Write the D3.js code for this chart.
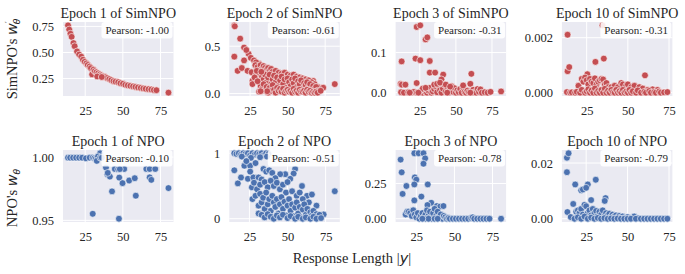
<!DOCTYPE html>
<html><head><meta charset="utf-8">
<script src="https://cdn.jsdelivr.net/npm/d3@7"></script>
<style>
body{margin:0;background:#fff}
svg text{font-family:"Liberation Serif","Times New Roman",serif;fill:#262626}
</style>
</head><body>
<svg id="c" width="685" height="274"></svg>
<script>
// ---------------- DATA ----------------
const titles = ["Epoch 1 of SimNPO","Epoch 2 of SimNPO","Epoch 3 of SimNPO","Epoch 10 of SimNPO",
                "Epoch 1 of NPO","Epoch 2 of NPO","Epoch 3 of NPO","Epoch 10 of NPO"];
const pearson = ["-1.00","-0.61","-0.31","-0.31","-0.10","-0.51","-0.78","-0.79"];
const xTicks = [25,50,75];
const yTicks = [[0.25,0.5,0.75],[0,0.5],[0,0.1],[0,0.002],[0.95,1.0],[0,1],[0,0.25],[0,0.02]];
const yTickLabels = [["0.25","0.50","0.75"],["0.0","0.5"],["0.0","0.1"],["0.000","0.002"],
                     ["0.95","1.00"],["0","1"],["0.00","0.25"],["0.00","0.02"]];

const simnpoE1 = [[13.6,0.76],[14.4,0.72],[15.2,0.68],[16.0,0.65],[17.2,0.59],[18.0,0.56],[19.6,0.51],[21.0,0.48],
[22.4,0.46],[23.5,0.43],[24.6,0.41],[25.8,0.395],[26.7,0.38],[27.9,0.365],[28.8,0.35],[29.6,0.29],[30.5,0.335],
[31.4,0.32],[32.5,0.31],[33.6,0.30],[34.8,0.29],[35.7,0.28],[37.0,0.27],[38.2,0.265],[39.5,0.255],[41.0,0.245],
[42.3,0.235],[43.8,0.225],[45.2,0.22],[46.9,0.215],[48.4,0.205],[50.1,0.2],[51.7,0.19],[53.3,0.185],[55.0,0.18],
[56.8,0.175],[58.4,0.17],[60.1,0.165],[61.9,0.16],[63.6,0.155],[65.2,0.152],[67.1,0.148],[68.9,0.145],[70.6,0.14],
[72.3,0.138],[80.3,0.115],[33.0,0.27],[36.0,0.265]];

const simnpoE2 = [[14.5,0.72],[14.8,0.71],[18.4,0.58],[21,0.486],[14.5,0.39],[24,0.42],[25.5,0.377],[21,0.35],
[27.6,0.35],[31,0.315],[16.7,0.24],[19.5,0.27],[23.3,0.24],[26,0.225],[26.6,0.134],[26.6,0.1],[81.4,0.1],[73.7,0.062],
[67,0.134],[22.5,0.46],[29,0.33],
[28.5,0.30],[30,0.28],[32,0.30],[33,0.26],[34,0.29],[35,0.27],[36,0.25],[37,0.27],[38,0.24],[39,0.26],[40,0.23],
[42,0.24],[44,0.22],[46,0.21],[48,0.22],[50,0.20],[52,0.19],[54,0.2],[56,0.18],[58,0.17],[60,0.16],[62,0.15],
[64,0.14],[66,0.12],[68,0.10],[70,0.07],
[29,0.2],[31,0.22],[33,0.18],[34,0.15],[35,0.2],[36,0.12],[37,0.17],[38,0.2],[39,0.1],[40,0.15],[41,0.19],[42,0.12],
[43,0.17],[44,0.08],[45,0.14],[46,0.18],[47,0.1],[48,0.15],[49,0.06],[50,0.16],[51,0.12],[52,0.08],[53,0.15],
[54,0.11],[55,0.16],[56,0.07],[57,0.13],[58,0.1],[59,0.14],[60,0.05],[61,0.11],[62,0.09],[63,0.12],[64,0.06],
[65,0.1],[66,0.04],[67,0.08],[68,0.05],[69,0.07],[70,0.03],
[31,0.02],[32,0.08],[33,0.05],[34,0.1],[35,0.03],[36,0.07],[37,0.01],[38,0.06],[39,0.03],[40,0.09],[41,0.04],
[42,0.01],[43,0.06],[44,0.03],[45,0.05],[46,0.02],[47,0.05],[48,0.01],[49,0.03],[50,0.04],[51,0.02],[52,0.03],
[53,0.01],[54,0.05],[55,0.02],[56,0.03],[57,0.01],[58,0.04],[59,0.02],[60,0.02],[61,0.03],[62,0.01],[63,0.04],
[64,0.02],[65,0.03],[66,0.01],[67,0.02],[68,0.01],[69,0.02],[70,0.01],[72,0.03],[36.4,0.025],[32,0.025],
[28,0.17],[30,0.13],[29.5,0.24],[32.5,0.23]];

const simnpoE3 = [[22.8,0.164],[25.3,0.168],[29,0.133],[30.2,0.138],[12.4,0.078],[22,0.085],[25.3,0.081],[31.9,0.079],
[31.9,0.05],[35.6,0.05],[41.2,0.045],[40,0.033],[60.7,0.047],[60,0.022],[11.7,0.022],[12.5,0.02],[15,0.02],
[22.8,0.024],[81.3,0.003],
[12,0.001],[14,0.0],[17,0.001],[19,0.0],[21,0.002],[23,0.0],[25,0.001],[26,0.004],[27,0.0],[28,0.008],[29,0.002],
[30,0.0],[31,0.005],[32,0.012],[33,0.0],[34,0.003],[35,0.009],[36,0.015],[37,0.001],[38,0.018],[39,0.006],[40,0.0],
[41,0.01],[42,0.02],[43,0.003],[44,0.014],[45,0.0],[46,0.008],[47,0.016],[48,0.002],[49,0.011],[50,0.0],[51,0.006],
[52,0.001],[53,0.009],[54,0.0],[55,0.013],[56,0.002],[57,0.0],[58,0.005],[59,0.001],[61,0.0],[62,0.007],[63,0.001],
[64,0.0],[65,0.009],[66,0.002],[67,0.008],[68,0.0],[70,0.001],[72,0.0],[74,0.002],[35,0.02],[37,0.022],[39,0.025],
[43,0.02],[46,0.015],[55,0.018],[27,0.01],[29,0.012],[18,0.0],[24,0.0],[44,0.0],[60,0.0]];

const simnpoE10 = [[13.4,0.00211],[34.6,0.00245],[13.4,0.00078],[14.4,0.00093],[30.3,0.00112],[35.4,0.00124],
[60.4,0.00063],[25.4,0.00067],
[20,0.00025],[22,0.0005],[23,0.0004],[24,0.00055],[25,0.00045],[26,0.0003],[27,0.0005],[28,0.0004],[29,0.00035],
[30,0.00052],[31,0.0003],[32,0.0004],[33,0.00045],[34,0.0005],[35,0.00048],[36,0.0003],[37,0.00035],[38,0.0002],
[40,0.0002],[42,0.00025],[44,0.0002],[46,0.00035],[47,0.0003],[49,0.00025],[50,0.0003],[52,0.0002],[54,0.00025],
[57,0.0002],[59,0.00015],[62,0.0001],[65,0.00012],[68,0.0001],
[13,0.00002],[15,0.0],[16,0.00001],[18,0.0],[19,0.00003],[21,0.0],[22,0.0001],[24,0.0],[25,0.00005],[26,0.00012],
[27,0.0],[28,0.00008],[29,0.0],[30,0.00015],[31,0.0],[32,0.00006],[33,0.0],[34,0.0001],[35,0.0],[36,0.00014],
[37,0.0],[38,0.00007],[39,0.0],[40,0.0001],[41,0.00002],[42,0.0],[43,0.0001],[44,0.0],[45,0.00005],[46,0.0],
[47,0.0001],[48,0.0],[49,0.00004],[50,0.0],[51,0.0001],[52,0.0],[53,0.00005],[55,0.0],[56,0.00008],[58,0.0],
[60,0.00003],[61,0.0],[63,0.00006],[64,0.0],[66,0.00002],[67,0.0],[69,0.00004],[70,0.0],[72,0.00001],[74,0.00002]];

const npoE1 = [[13.6,0.9995],[15,0.9995],[17,0.9995],[19,0.9995],[21,0.9995],[23,0.9995],[25.5,0.999],[28,0.9995],
[30,0.9995],[31,0.999],[32,0.9985],[33,0.9975],[34,0.9995],[34.9,1.003],[33.5,1.0005],[32.7,0.997],[35,0.9995],
[36,0.9995],[38.8,0.9917],[39.7,0.9865],[41.4,0.9846],[44.7,0.9906],[46.9,0.9904],[50.9,0.9906],[47.6,0.9838],
[49.8,0.9794],[54.2,0.9815],[57.9,0.9833],[65.6,0.9906],[67.8,0.9906],[71.5,0.9906],[67.8,0.984],[68.9,0.982],
[42.8,0.9729],[58.6,0.9695],[80.3,0.9755],[30,0.9552],[47.4,0.9513],[40,0.9875],[48,0.9905]];

const npoE2 = [[15.1,1.0],[16.5,0.99],[18,1.0],[19.5,0.98],[21,1.0],[22.5,0.99],[24,1.0],[25.5,0.97],[27,1.0],
[28.5,0.98],[30,1.0],[31.5,0.99],[33,1.0],[34.5,0.97],[36,1.0],[37.5,0.99],[20,0.95],[26,0.93],[32,0.94],[36.5,0.95],
[15.1,0.74],[17.4,0.54],[19.5,0.63],[21.7,0.81],[25.5,0.81],[25.5,0.72],[24,0.61],[26.6,0.48],[27.6,0.63],[31,0.63],
[34.2,0.76],[81,0.42],[73.7,0.065],[62.8,0.35],[59.5,0.5],[55,0.76],[54,0.69],[51.8,0.61],[48.5,0.68],[45.2,0.68],
[29,0.85],[33,0.6],[36,0.72],[38,0.74],[40,0.7],[42,0.62],[23,0.88],[28,0.55],[30,0.45],[32,0.52],[35,0.56],
[37,0.48],[39,0.58],[41,0.5],[43,0.55],[45,0.45],[47,0.52],[49,0.4],[50,0.56],[53,0.42],[56,0.35],[58,0.4],
[60,0.3],[64,0.25],[66,0.37],[69,0.2],
[27,0.3],[29,0.35],[31,0.2],[32,0.38],[33,0.25],[34,0.32],[35,0.15],[36,0.4],[37,0.22],[38,0.3],[39,0.12],[40,0.35],
[41,0.25],[42,0.18],[43,0.3],[44,0.08],[45,0.22],[46,0.33],[47,0.15],[48,0.26],[49,0.05],[50,0.2],[51,0.3],
[52,0.12],[53,0.22],[54,0.04],[55,0.17],[56,0.25],[57,0.08],[58,0.18],[59,0.02],[60,0.14],[61,0.22],[62,0.06],
[63,0.15],[64,0.02],[65,0.1],[66,0.05],[67,0.12],[68,0.02],[69,0.07],[70,0.03],[71,0.06],
[31,0.08],[33,0.06],[35,0.02],[37,0.07],[39,0.03],[41,0.0],[43,0.05],[45,0.02],[47,0.06],[50,0.01],[52,0.04],
[55,0.0],[57,0.03],[60,0.0],[62,0.02],[65,0.0],[67,0.03],[69,0.0],[72,0.01]];

const npoE3 = [[14.7,0.419],[23.7,0.464],[26.5,0.464],[29.7,0.464],[30.8,0.428],[29.7,0.39],[15.4,0.329],[24,0.293],
[25,0.277],[23.7,0.243],[18.5,0.232],[32.5,0.243],[16,0.176],[28.3,0.157],[23.7,0.13],[34.8,0.113],[32.3,0.097],
[38.5,0.09],[40.6,0.086],[42.8,0.09],
[18,0.03],[19,0.05],[20,0.05],[21,0.04],[22,0.02],[23,0.06],[24,0.03],[25,0.01],[26,0.04],[27,0.0],[28,0.02],
[29,0.04],[30,0.01],[31,0.03],[32,0.06],[33,0.02],[34,0.05],[35,0.0],[36,0.04],[37,0.07],[38,0.02],[39,0.05],
[40,0.01],[41,0.03],[42,0.0],[43,0.02],[44,0.01],[45,0.0],[46,0.005],[47,0.0],[49,0.0],[51,0.0],[53,0.0],[55,0.0],
[57,0.0],[59,0.0],[61,0.005],[62,0.01],[63,0.0],[65,0.0],[67,0.0],[69,0.0],[71,0.0],[73,0.0],[80.6,0.0],[31,0.0],
[33,0.0],[29,0.0],[37,0.0],[39,0.0]];

const npoE10 = [[13.4,0.0219],[14.4,0.0235],[13.4,0.0167],[18.4,0.0123],[22,0.0102],[23,0.0105],[26,0.0123],
[30.8,0.014],[25,0.0111],[28,0.0067],[36.7,0.0074],[36.2,0.0064],[17.2,0.0053],[13.7,0.0024],[15.7,0.0006],
[19,0.0025],[20,0.003],[21,0.002],[22,0.0035],[23,0.0015],[24,0.005],[25,0.0045],[26,0.002],[27,0.003],[28,0.0012],
[29,0.0035],[30,0.002],[31,0.0028],[32,0.001],[33,0.0025],[34,0.0015],[35,0.003],[36,0.0008],[37,0.002],[38,0.0012],
[39,0.0018],[40,0.0006],[41,0.0015],[42,0.0008],[43,0.0012],[44,0.0004],[45,0.001],[46,0.0005],[47,0.0008],
[48,0.0002],[50,0.0006],[52,0.0003],[54,0.0008],[56,0.0002],[18,0.0],[20,0.0005],[22,0.0],[24,0.0008],[26,0.0],
[28,0.0004],[30,0.0],[32,0.0003],[34,0.0],[36,0.0002],[38,0.0],[40,0.0001],[42,0.0],[44,0.0001],[46,0.0],[48,0.0],
[50,0.0],[52,0.0],[55,0.0],[58,0.0],[60,0.0],[62,0.0],[64,0.0],[66,0.0],[68,0.0],[70,0.0],[72,0.0],[74,0.0]];

const seriesData = [simnpoE1,simnpoE2,simnpoE3,simnpoE10,npoE1,npoE2,npoE3,npoE10];
const colors = ["#C44E52","#4C72B0"];

// ---------------- DRAW ----------------
const SERIF = '"Liberation Serif","Times New Roman",serif';
const svg = d3.select("#c");
const padded = e => { const r = e[1]-e[0]; return [e[0]-0.05*r, e[1]+0.05*r]; };
const TICK_FS = 12.5;

seriesData.forEach((data,i) => {
  const col = i%4, row = Math.floor(i/4);
  const left = 63 + col*166.3, w = 110.5;
  const top = row ? 150 : 22, h = row ? 72 : 74;
  const x = d3.scaleLinear().domain(padded(d3.extent(data,d=>d[0]))).range([left,left+w]);
  const y = d3.scaleLinear().domain(padded(d3.extent(data,d=>d[1]))).range([top+h,top]);
  const g = svg.append("g");
  g.append("rect").attr("x",left).attr("y",top).attr("width",w).attr("height",h).attr("fill","#EAEAF2");
  g.selectAll(".gx").data(xTicks).join("line")
    .attr("x1",d=>x(d)).attr("x2",d=>x(d)).attr("y1",top).attr("y2",top+h)
    .attr("stroke","#fff").attr("stroke-width",1);
  g.selectAll(".gy").data(yTicks[i]).join("line")
    .attr("y1",d=>y(d)).attr("y2",d=>y(d)).attr("x1",left).attr("x2",left+w)
    .attr("stroke","#fff").attr("stroke-width",1);
  g.append("g").selectAll("circle").data(data).join("circle")
    .attr("cx",d=>x(d[0])).attr("cy",d=>y(d[1])).attr("r",3.4)
    .attr("fill",colors[row]).attr("stroke","#fff").attr("stroke-width",0.6);

  // axes
  const ax = g.append("g").attr("transform",`translate(0,${top+h})`)
    .call(d3.axisBottom(x).tickValues(xTicks).tickSize(0).tickPadding(10).tickFormat(d3.format("d")));
  const ay = g.append("g").attr("transform",`translate(${left},0)`)
    .call(d3.axisLeft(y).tickValues(yTicks[i]).tickSize(0).tickPadding(9).tickFormat((d,k)=>yTickLabels[i][k]));
  [ax,ay].forEach(a=>{ a.select(".domain").remove();
    a.attr("font-family",SERIF).attr("font-size",TICK_FS);
    a.selectAll("text").style("font-family",SERIF).style("font-size",TICK_FS+"px").attr("fill","#1a1a1a"); });

  // title
  g.append("text").attr("x",left+w/2).attr("y",top-4.5).attr("text-anchor","middle")
    .style("font-family",SERIF).style("font-size","14px").attr("fill","#1a1a1a").text(titles[i]);

  // pearson box
  const pb = g.append("g");
  const rect = pb.append("rect");
  const t = pb.append("text").attr("x",left+w-4.5).attr("y",top+12.3).attr("text-anchor","end")
    .style("font-family",SERIF).style("font-size","11px").attr("fill","#1a1a1a").text("Pearson: "+pearson[i]);
  const tw = t.node().getComputedTextLength();
  rect.attr("x",left+w-tw-8.5).attr("y",top).attr("width",tw+7.5).attr("height",16.5)
    .attr("rx",3).attr("fill","#fff").attr("fill-opacity",0.88);
});

// y labels
const yl1 = svg.append("text").attr("transform","translate(17,59) rotate(-90)").attr("text-anchor","middle")
  .style("font-family",SERIF).style("font-size","14.5px");
yl1.append("tspan").text("SimNPO's ");
yl1.append("tspan").style("font-family","DejaVu Sans").style("font-style","italic").text("w");
yl1.append("tspan").style("font-family","DejaVu Sans").style("font-size","9px").attr("dy","-5").text("′");
yl1.append("tspan").style("font-family","DejaVu Sans").style("font-style","italic").style("font-size","9px").attr("dx","-3").attr("dy","8").text("θ");

const yl2 = svg.append("text").attr("transform","translate(17,198) rotate(-90)").attr("text-anchor","middle")
  .style("font-family",SERIF).style("font-size","14.5px");
yl2.append("tspan").text("NPO's ");
yl2.append("tspan").style("font-family","DejaVu Sans").style("font-style","italic").text("w");
yl2.append("tspan").style("font-family","DejaVu Sans").style("font-style","italic").style("font-size","9px").attr("dy","3").text("θ");

// x label
const xl = svg.append("text").attr("x",352).attr("y",263).attr("text-anchor","middle")
  .style("font-family",SERIF).style("font-size","14.5px");
xl.append("tspan").text("Response Length |");
xl.append("tspan").style("font-family","DejaVu Sans").style("font-style","italic").text("y");
xl.append("tspan").text("|");
</script>
</body></html>
